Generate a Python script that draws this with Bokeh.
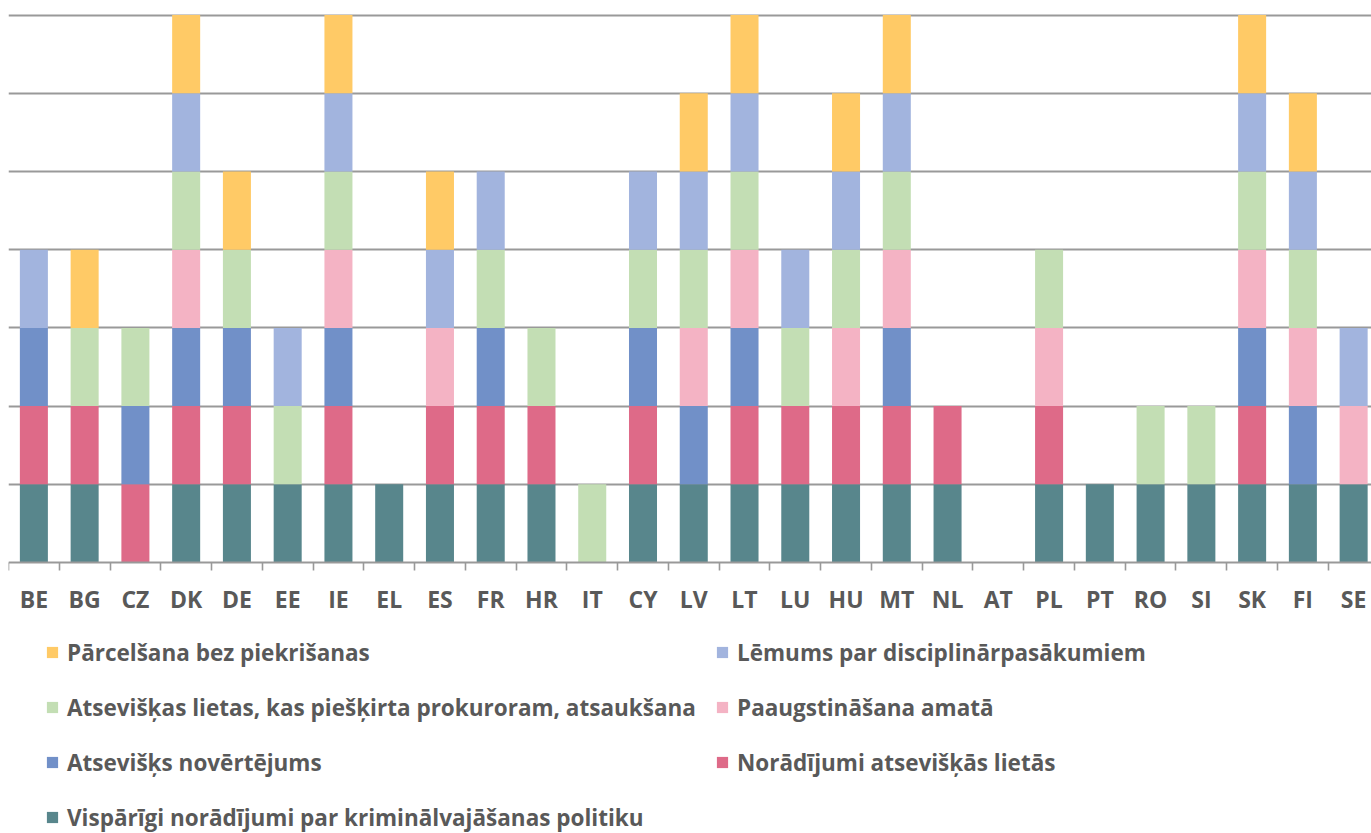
from bokeh.plotting import figure
from bokeh.models import ColumnDataSource, Range1d, FixedTicker, Legend, LegendItem
from bokeh.embed import file_html
from bokeh.resources import INLINE

countries = ["BE", "BG", "CZ", "DK", "DE", "EE", "IE", "EL", "ES", "FR", "HR", "IT", "CY", "LV",
             "LT", "LU", "HU", "MT", "NL", "AT", "PL", "PT", "RO", "SI", "SK", "FI", "SE"]

#            BE BG CZ DK DE EE IE EL ES FR HR IT CY LV LT LU HU MT NL AT PL PT RO SI SK FI SE
general    = [1, 1, 0, 1, 1, 1, 1, 1, 1, 1, 1, 0, 1, 1, 1, 1, 1, 1, 1, 0, 1, 1, 1, 1, 1, 1, 1]
instr      = [1, 1, 1, 1, 1, 0, 1, 0, 1, 1, 1, 0, 1, 0, 1, 1, 1, 1, 1, 0, 1, 0, 0, 0, 1, 0, 0]
evaluation = [1, 0, 1, 1, 1, 0, 1, 0, 0, 1, 0, 0, 1, 1, 1, 0, 0, 1, 0, 0, 0, 0, 0, 0, 1, 1, 0]
promotion  = [0, 0, 0, 1, 0, 0, 1, 0, 1, 0, 0, 0, 0, 1, 1, 0, 1, 1, 0, 0, 1, 0, 0, 0, 1, 1, 1]
withdrawal = [0, 1, 1, 1, 1, 1, 1, 0, 0, 1, 1, 1, 1, 1, 1, 1, 1, 1, 0, 0, 1, 0, 1, 1, 1, 1, 0]
discipline = [1, 0, 0, 1, 0, 1, 1, 0, 1, 1, 0, 0, 1, 1, 1, 1, 1, 1, 0, 0, 0, 0, 0, 0, 1, 1, 1]
transfer   = [0, 1, 0, 1, 1, 0, 1, 0, 1, 0, 0, 0, 0, 1, 1, 0, 1, 1, 0, 0, 0, 0, 0, 0, 1, 1, 0]

series_keys = ["general", "instr", "evaluation", "promotion", "withdrawal", "discipline", "transfer"]
series_labels = {
    "general": "Vispārīgi norādījumi par kriminālvajāšanas politiku",
    "instr": "Norādījumi atsevišķās lietās",
    "evaluation": "Atsevišķs novērtējums",
    "promotion": "Paaugstināšana amatā",
    "withdrawal": "Atsevišķas lietas, kas piešķirta prokuroram, atsaukšana",
    "discipline": "Lēmums par disciplinārpasākumiem",
    "transfer": "Pārcelšana bez piekrišanas",
}
colors = ["#58868C", "#DE6A88", "#7190C8", "#F4B3C4", "#C3DEB4", "#A2B4DE", "#FFCA66"]

x = list(range(len(countries)))
source = ColumnDataSource(dict(
    x=x, general=general, instr=instr, evaluation=evaluation, promotion=promotion,
    withdrawal=withdrawal, discipline=discipline, transfer=transfer))

step = 50.76       # px per category
unit = 78.2        # px per y unit
W, H = 1371, 833
BL, BT = 8, 13
base_px = 562      # page y of the baseline
frame_w = W - BL
y_end = (base_px - BT) / unit
y_start = -(H - base_px) / unit

p = figure(width=W, height=H, output_backend="svg", toolbar_location=None,
           x_range=Range1d(-0.5, -0.5 + frame_w / step), y_range=Range1d(y_start, y_end),
           min_border_left=BL, min_border_right=0, min_border_top=BT, min_border_bottom=0)
p.outline_line_color = None
p.yaxis.visible = False
p.xgrid.grid_line_color = None
p.ygrid.ticker = FixedTicker(ticks=[1, 2, 3, 4, 5, 6, 7])
p.ygrid.grid_line_color = "#999999"
p.ygrid.grid_line_width = 1.8

renderers = p.vbar_stack(series_keys, x="x", width=0.552, source=source,
                         color=colors, line_width=0)

ax = p.xaxis[0]
ax.fixed_location = 0
ax.ticker = FixedTicker(ticks=x, minor_ticks=[i - 0.5 for i in range(len(countries) + 1)])
ax.major_label_overrides = {i: c for i, c in enumerate(countries)}
ax.major_tick_line_color = None
ax.major_tick_out = 8
ax.major_tick_in = 0
ax.minor_tick_line_color = "#999999"
ax.minor_tick_line_width = 1.6
ax.minor_tick_out = 8
ax.minor_tick_in = 0
ax.axis_line_color = "#999999"
ax.axis_line_width = 1.8
ax.major_label_text_font = "Open Sans"
ax.major_label_text_font_style = "bold"
ax.major_label_text_font_size = "23px"
ax.major_label_text_color = "#595959"
ax.major_label_standoff = 12

rmap = dict(zip(series_keys, renderers))

LH, SP = 32, 23
first_top = 652 - LH / 2


def make_legend(keys, vx):
    n = len(keys)
    bottom = first_top + n * LH + (n - 1) * SP
    items = [LegendItem(label=series_labels[k], renderers=[rmap[k]]) for k in keys]
    return Legend(items=items, location=(vx, H - bottom), orientation="vertical",
                  padding=0, margin=0, spacing=SP, label_height=LH,
                  glyph_width=14, glyph_height=14, label_standoff=8,
                  border_line_alpha=0, background_fill_alpha=0,
                  label_text_font="Open Sans", label_text_font_style="bold",
                  label_text_font_size="22.5px", label_text_color="#595959")


p.add_layout(make_legend(["transfer", "withdrawal", "evaluation", "general"], 45 - BL), "center")
p.add_layout(make_legend(["discipline", "promotion", "instr"], 715 - BL), "center")

open("out.html", "w").write(file_html(p, INLINE))
